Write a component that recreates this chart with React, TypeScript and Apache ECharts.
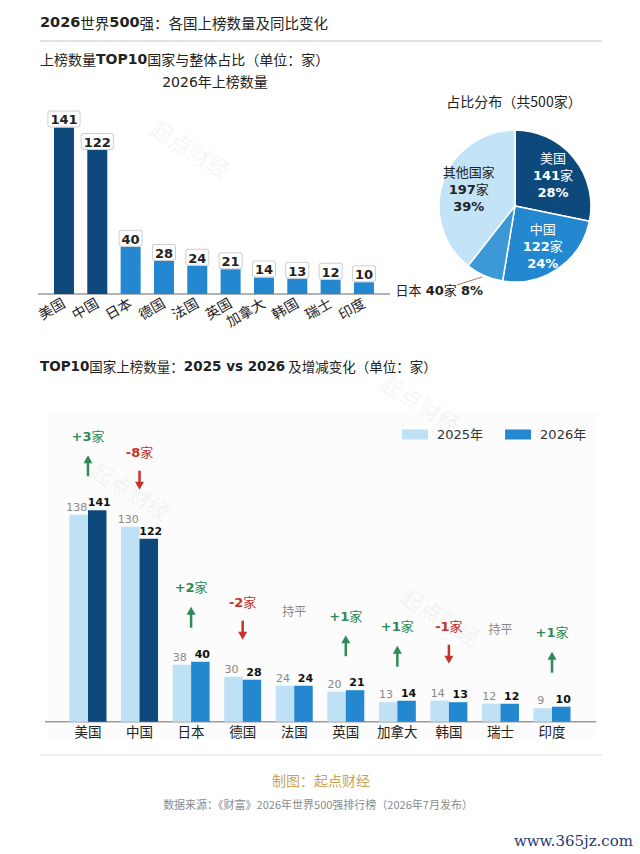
import React, { useEffect, useRef } from "react";
import * as echarts from "echarts";

const countries = ["美国", "中国", "日本", "德国", "法国", "英国", "加拿大", "韩国", "瑞士", "印度"];
const count2026 = [141, 122, 40, 28, 24, 21, 14, 13, 12, 10];
const count2025 = [138, 130, 38, 30, 24, 20, 13, 14, 12, 9];
const changes = [3, -8, 2, -2, 0, 1, 1, -1, 0, 1];
const pieNames = ["美国", "中国", "日本", "其他国家"];
const pieValues = [141, 122, 40, 197];
const piePercents = ["28%", "24%", "8%", "39%"];
const darkCount = 2;

const FONT = "'DejaVu Sans', 'Noto Sans CJK SC', sans-serif";
const CJK = "'Noto Sans CJK SC', 'DejaVu Sans', sans-serif";
const DARK = "#0d4a7b";
const MID = "#2388cf";
const LIGHT = "#bfe1f5";
const JP = "#3d98d7";
const OTHER = "#c3e3f6";
const GREEN = "#2e8b57";
const RED = "#c8322d";
const pieColors = [DARK, MID, JP, OTHER];

export default function App() {
  const ref = useRef<HTMLDivElement>(null);
  useEffect(() => {
    document.body.style.margin = "0";
    const chart = echarts.init(ref.current!, undefined, { renderer: "svg" });

    const rich = (size: number, color: string) => ({
      b: { fontFamily: FONT, fontSize: size, fontWeight: "bold", color },
      n: { fontFamily: FONT, fontSize: size, color },
    });
    const grich = (size: number, color: string, nFont = FONT) => ({
      b: { fontFamily: FONT, fontSize: size, fontWeight: "bold", fill: color },
      n: { fontFamily: nFont, fontSize: size, fill: color },
    });

    const watermark = (x: number, y: number) => ({
      type: "text",
      x,
      y,
      rotation: -0.55,
      z: 100,
      silent: true,
      style: {
        text: "起点财经",
        fill: "rgba(0,0,0,0.04)",
        fontSize: 22,
        fontWeight: "bold",
        fontFamily: FONT,
        align: "center",
        verticalAlign: "middle",
      },
    });

    const option: any = {
      animation: false,
      backgroundColor: "#fff",
      textStyle: { fontFamily: FONT },
      graphic: [
        {
          type: "rect",
          z: -10,
          shape: { x: 48, y: 413, width: 550, height: 325 },
          style: { fill: "#fcfcfc" },
        },
        {
          type: "text",
          x: 40,
          y: 22,
          style: {
            text: "{b|2026}{n|世界}{b|500}{n|强：各国上榜数量及同比变化}",
            rich: grich(14.5, "#222", CJK),
            verticalAlign: "middle",
          },
        },
        {
          type: "line",
          shape: { x1: 40, y1: 41, x2: 602, y2: 41 },
          style: { stroke: "#c4c4c4", lineWidth: 1 },
        },
        {
          type: "text",
          x: 40,
          y: 59,
          style: {
            text: "{n|上榜数量}{b|TOP10}{n|国家与整体占比（单位：家）}",
            rich: grich(14, "#222", CJK),
            verticalAlign: "middle",
          },
        },
        {
          type: "text",
          x: 215,
          y: 82,
          style: { text: "2026年上榜数量", fontSize: 14, fontFamily: FONT, fill: "#222", align: "center", verticalAlign: "middle" },
        },
        {
          type: "text",
          x: 514,
          y: 101,
          style: { text: "占比分布（共500家）", fontSize: 14, fontFamily: CJK, fill: "#222", align: "center", verticalAlign: "middle" },
        },
        {
          type: "line",
          shape: { x1: 38, y1: 294, x2: 390, y2: 294 },
          style: { stroke: "#9a9a9a", lineWidth: 1.5 },
        },
        {
          type: "line",
          z: 50,
          shape: { x1: 482, y1: 277, x2: 457, y2: 285 },
          style: { stroke: "#a8887a", lineWidth: 1.2 },
        },
        {
          type: "text",
          x: 40,
          y: 366,
          style: {
            text: "{b|TOP10}{n|国家上榜数量：}{b|2025 vs 2026}{n| 及增减变化（单位：家）}",
            rich: grich(13.5, "#222", CJK),
            verticalAlign: "middle",
          },
        },
        {
          type: "line",
          shape: { x1: 45, y1: 721.7, x2: 596, y2: 721.7 },
          style: { stroke: "#9a9a9a", lineWidth: 1.5 },
        },
        {
          type: "line",
          shape: { x1: 40, y1: 755, x2: 602, y2: 755 },
          style: { stroke: "#dcdcdc", lineWidth: 1 },
        },
        {
          type: "text",
          x: 321,
          y: 780,
          style: { text: "制图：起点财经", fontSize: 14, fontFamily: CJK, fill: "#c9a35a", align: "center", verticalAlign: "middle" },
        },
        {
          type: "text",
          x: 318,
          y: 804,
          style: {
            text: "数据来源：《财富》2026年世界500强排行榜（2026年7月发布）",
            fontSize: 11,
            fontFamily: CJK,
            fill: "#8a8a8a",
            align: "center",
            verticalAlign: "middle",
          },
        },
        {
          type: "text",
          x: 633,
          y: 841,
          style: {
            text: "www.365jz.com",
            fontSize: 15,
            fontFamily: "'DejaVu Serif', serif",
            fill: "#1f3a6e",
            align: "right",
            verticalAlign: "middle",
          },
        },
        watermark(190, 150),
        watermark(420, 405),
        watermark(130, 492),
        watermark(440, 618),
      ],
      legend: {
        data: ["2025年", "2026年"],
        left: 397,
        top: 423,
        icon: "rect",
        itemWidth: 26,
        itemHeight: 10,
        itemGap: 22,
        textStyle: { fontSize: 13, color: "#333", fontFamily: FONT, padding: [0, 0, 0, 4] },
      },
      grid: [
        { left: 47.3, top: 105, width: 333.3, height: 189 },
        { left: 62.2, top: 421.7, width: 515.6, height: 300 },
      ],
      xAxis: [
        {
          type: "category",
          gridIndex: 0,
          data: countries,
          axisLine: { show: false },
          axisTick: { show: false },
          axisLabel: { rotate: 30, fontSize: 14, color: "#222", margin: 8, interval: 0, fontFamily: FONT },
        },
        {
          type: "category",
          gridIndex: 1,
          data: countries,
          axisLine: { show: false },
          axisTick: { show: false },
          axisLabel: { fontSize: 13.5, color: "#222", margin: 4, interval: 0, fontFamily: FONT },
        },
      ],
      yAxis: [
        { type: "value", gridIndex: 0, min: 0, max: 160, show: false },
        { type: "value", gridIndex: 1, min: 0, max: 200, show: false },
      ],
      series: [
        {
          type: "bar",
          name: "top2026",
          xAxisIndex: 0,
          yAxisIndex: 0,
          barWidth: 20,
          data: count2026.map((v, i) => ({ value: v, itemStyle: { color: i < darkCount ? DARK : MID } })),
          label: {
            show: true,
            position: "top",
            distance: 1,
            fontSize: 13,
            fontWeight: "bold",
            color: "#222",
            fontFamily: FONT,
            backgroundColor: "#fff",
            borderColor: "#cfcfcf",
            borderWidth: 1,
            borderRadius: 2,
            padding: [2, 2, 0, 2],
          },
        },
        {
          type: "pie",
          name: "share",
          center: [515, 206],
          radius: [0, 76],
          startAngle: 90,
          clockwise: true,
          itemStyle: { borderColor: "#fff", borderWidth: 1.5 },
          label: { show: false },
          labelLine: { show: false },
          labelLayout: (p: any) => (p.dataIndex === 2 ? { dx: 10, dy: 9 } : {}),
          data: pieValues.map((v, i) => ({
            name: pieNames[i],
            value: v,
            itemStyle: { color: pieColors[i] },
            label:
              i === 2
                ? {
                    show: true,
                    position: "outside",
                    formatter: `{n|${pieNames[i]} }{b|${v}}{n|家 }{b|${piePercents[i]}}`,
                    rich: rich(13, "#222"),
                  }
                : { show: false },
            labelLine: { show: false, length: 6, length2: 4 },
          })),
        },
        {
          type: "pie",
          name: "shareLabels",
          center: [515, 206],
          radius: [16, 76],
          startAngle: 90,
          clockwise: true,
          silent: true,
          itemStyle: { color: "rgba(0,0,0,0)" },
          labelLine: { show: false },
          data: pieValues.map((v, i) => ({
            name: pieNames[i],
            value: v,
            label:
              i === 2
                ? { show: false }
                : {
                    show: true,
                    position: "inside",
                    lineHeight: 17,
                    formatter: `{n|${pieNames[i]}}\n{b|${v}}{n|家}\n{b|${piePercents[i]}}`,
                    rich: (() => {
                      const c = i === 3 ? "#222" : "#fff";
                      return {
                        b: { fontFamily: FONT, fontSize: 13, fontWeight: "bold", color: c, lineHeight: 17 },
                        n: { fontFamily: FONT, fontSize: 13, color: c, lineHeight: 17 },
                      };
                    })(),
                  },
          })),
        },
        {
          type: "bar",
          name: "2025年",
          xAxisIndex: 1,
          yAxisIndex: 1,
          barWidth: 18.5,
          barGap: "0%",
          itemStyle: { color: LIGHT },
          data: count2025,
          label: { show: true, position: "top", distance: 2, offset: [-2, 0], fontSize: 11, color: "#888", fontFamily: FONT },
        },
        {
          type: "bar",
          name: "2026年",
          xAxisIndex: 1,
          yAxisIndex: 1,
          barWidth: 18.5,
          barGap: "0%",
          itemStyle: { color: MID },
          data: count2026.map((v, i) => ({ value: v, itemStyle: { color: i < darkCount ? DARK : MID } })),
          label: {
            show: true,
            position: "top",
            distance: 2,
            offset: [2, 0],
            fontSize: 11,
            fontWeight: "bold",
            color: "#111",
            fontFamily: FONT,
          },
        },
        {
          type: "custom",
          name: "change",
          xAxisIndex: 1,
          yAxisIndex: 1,
          silent: true,
          data: countries.map((_, i) => [i, Math.max(count2025[i], count2026[i]), changes[i]]),
          renderItem: (params: any, api: any) => {
            const idx = api.value(0);
            const top = api.value(1);
            const ch = api.value(2);
            const p = api.coord([idx, top]);
            const x = p[0];
            const y = p[1];
            const children: any[] = [];
            if (ch === 0) {
              children.push({
                type: "text",
                x,
                y: y - 74,
                style: { text: "持平", fontSize: 12, fontFamily: FONT, fill: "#888", align: "center", verticalAlign: "middle" },
              });
            } else {
              const color = ch > 0 ? GREEN : RED;
              const sign = ch > 0 ? "+" : "-";
              children.push({
                type: "text",
                x,
                y: y - 74,
                style: {
                  text: `{b|${sign}${Math.abs(ch)}}{n|家}`,
                  rich: grich(13, color),
                  fill: color,
                  align: "center",
                  verticalAlign: "middle",
                },
              });
              if (ch > 0) {
                children.push({
                  type: "line",
                  shape: { x1: x, y1: y - 34, x2: x, y2: y - 48 },
                  style: { stroke: color, lineWidth: 2.5 },
                });
                children.push({
                  type: "polygon",
                  shape: { points: [[x - 4.5, y - 47], [x + 4.5, y - 47], [x, y - 55]] },
                  style: { fill: color },
                });
              } else {
                children.push({
                  type: "line",
                  shape: { x1: x, y1: y - 56, x2: x, y2: y - 44 },
                  style: { stroke: color, lineWidth: 2.5 },
                });
                children.push({
                  type: "polygon",
                  shape: { points: [[x - 4.5, y - 45], [x + 4.5, y - 45], [x, y - 37]] },
                  style: { fill: color },
                });
              }
            }
            return { type: "group", children };
          },
        },
      ],
    };

    chart.setOption(option);
    return () => chart.dispose();
  }, []);

  return <div ref={ref} style={{ width: 640, height: 854 }} />;
}
